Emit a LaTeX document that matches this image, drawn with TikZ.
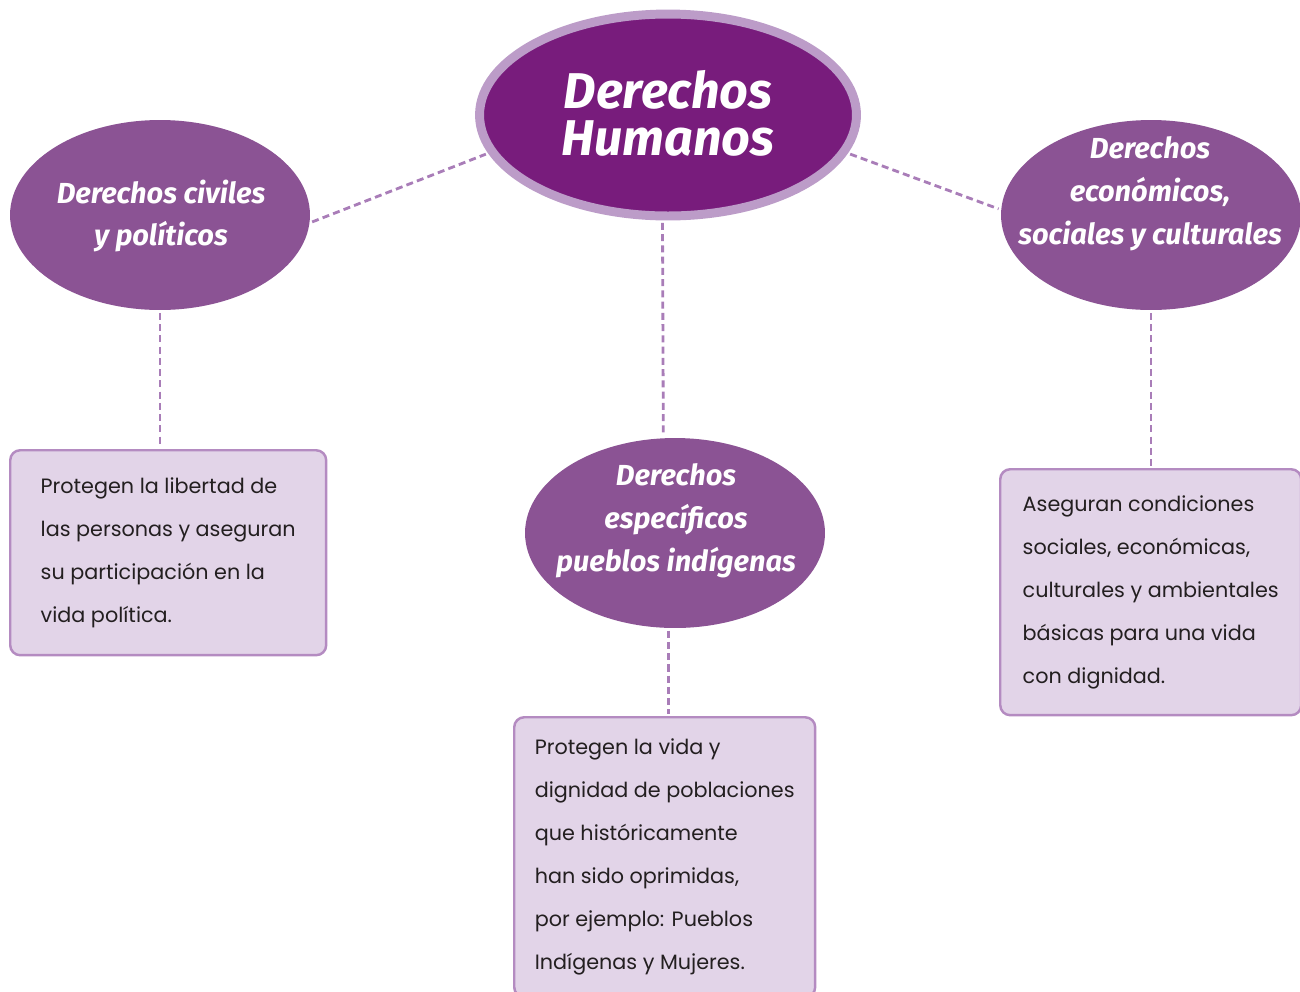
\documentclass[tikz,border=0pt]{standalone}
\usepackage{fontspec}
\setmainfont{Poppins}
\newfontfamily\titlefont{Fira Sans}
\usetikzlibrary{shapes.geometric}

\definecolor{dhdark}{HTML}{781C7C}
\definecolor{dhring}{HTML}{BC9CC8}
\definecolor{dhmid}{HTML}{8B5394}
\definecolor{dhbox}{HTML}{E2D4E8}
\definecolor{dhedge}{HTML}{B48BC1}
\definecolor{dhdash}{HTML}{A97DB8}
\definecolor{dhtext}{HTML}{231F20}

\tikzset{
  derecho/.style={ellipse, fill=dhmid, minimum width=6cm, minimum height=3.8cm, inner sep=0pt},
  derechotxt/.style={text=white, align=center, inner sep=0pt,
    font=\titlefont\bfseries\itshape\fontsize{16.5}{24.4}\selectfont},
  caja/.style={rectangle, rounded corners=0.2cm, draw=dhedge, line width=1.4pt, fill=dhbox,
    align=left, text=dhtext, anchor=north west, font=\fontsize{11.8}{24.5}\selectfont},
  enlace/.style={draw=dhdash, line width=1.6pt, dash pattern=on 4pt off 2.4pt,
    shorten <=0.05cm, shorten >=0.05cm},
}

\begin{document}
\begin{tikzpicture}[x=0.02cm, y=-0.02cm]
\useasboundingbox (0,0) rectangle (1300,991);

% central node
\node[ellipse, fill=dhdark, draw=dhring, line width=5.1pt, minimum width=7.54cm,
  minimum height=4.04cm, inner sep=0pt] (dh) at (668,115) {};
\node[text=white, align=center, inner sep=0pt,
  font=\titlefont\bfseries\itshape\fontsize{28.6}{26.8}\selectfont] (dh-txt) at (668,113) {Derechos\\Humanos};

% the three kinds
\node[derecho] (civ) at (160,215) {};
\node[derechotxt] (civ-txt) at (161,216) {Derechos civiles\\y políticos};
\node[derecho] (esp) at (675,533) {};
\node[derechotxt] (esp-txt) at (676,521) {Derechos\\específicos\\pueblos indígenas};
\node[derecho] (eco) at (1151,215) {};
\node[derechotxt] (eco-txt) at (1150,194) {Derechos\\económicos,\\sociales y culturales};

% boxes
\node[caja, minimum width=6.32cm, minimum height=4.1cm] (civ-caja) at (9,449)
  {Protegen la libertad de\\las personas y aseguran\\su participación en la\\vida política.};
\node[caja, minimum width=6.02cm, minimum height=5.6cm] (esp-caja) at (513,716)
  {Protegen la vida y\\dignidad de poblaciones\\que históricamente\\han sido oprimidas,\\por ejemplo: Pueblos\\Indígenas y Mujeres.};
\node[caja, minimum width=6.02cm, minimum height=4.92cm] (eco-caja) at (999,468)
  {Aseguran condiciones\\sociales, económicas,\\culturales y ambientales\\básicas para una vida\\con dignidad.};

% links
\draw[enlace] (civ.-3) -- (dh.192);
\draw[enlace] (dh.-12) -- (eco.178);
\draw[enlace] (dh.267) -- (esp.97);
\draw[enlace] (civ.south) -- (civ.south |- civ-caja.north);
\draw[enlace] (esp.266) -- (esp.266 |- esp-caja.north);
\draw[enlace] (eco.south) -- (eco.south |- eco-caja.north);
\end{tikzpicture}
\end{document}
